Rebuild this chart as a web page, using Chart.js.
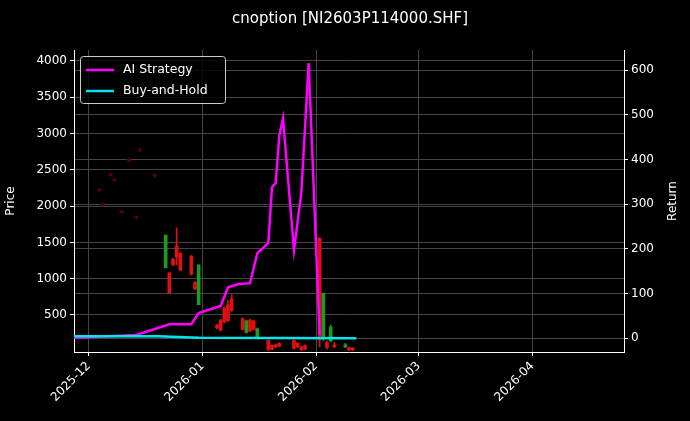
<!DOCTYPE html>
<html><head><meta charset="utf-8">
<script src="https://cdn.jsdelivr.net/npm/chart.js@4"></script>
<style>html,body{margin:0;background:#000}#c{display:block}</style>
</head><body>
<div style="width:690px;height:421px"><canvas id="c"></canvas></div>
<script>
// precios (velas)
const candleDates = ['2025-12-04','2025-12-05','2025-12-07','2025-12-08','2025-12-10','2025-12-12','2025-12-14','2025-12-15','2025-12-19',
  '2025-12-22','2025-12-23','2025-12-24','2025-12-25','2025-12-26','2025-12-29','2025-12-30','2025-12-31',
  '2026-01-05','2026-01-06','2026-01-07','2026-01-08','2026-01-09','2026-01-12','2026-01-13','2026-01-14','2026-01-15','2026-01-16',
  '2026-01-19','2026-01-20','2026-01-21','2026-01-22','2026-01-26','2026-01-27','2026-01-28','2026-01-29',
  '2026-02-02','2026-02-03','2026-02-04','2026-02-05','2026-02-06','2026-02-09','2026-02-10','2026-02-11'];
const opens  = [2230,2030,2440,2370,1930,2650,1850,2780,2430, 1150,1080,1270,1450,1350,1310,950,640, 360,430,600,640,720,450,260,430,420,180, 150,80,90,110,150,110,60,80, 1560,180,120,140,90,60,50,40];
const closes = [2210,2010,2420,2350,1910,2620,1830,2760,2410, 1600,800,1190,1300,1120,1060,860,1190, 320,290,400,420,560,300,420,280,300,310, 20,30,60,70,40,60,20,30, 160,800,50,330,60,90,20,20];
const highs  = [2240,2040,2450,2380,1940,2660,1860,2790,2440, 1600,1080,1280,1700,1360,1320,960,1190, 370,440,610,700,780,460,430,440,430,320, 160,90,100,120,160,120,70,90, 1560,800,140,360,120,110,60,50];
const lows   = [2200,2000,2410,2340,1900,2610,1820,2750,2400, 1150,800,1180,1190,1110,1050,850,640, 310,280,390,410,550,290,250,270,290,170, 10,20,50,60,30,50,10,20, 60,150,30,130,50,50,10,10];
// retornos
const aiDates = ['2025-11-27','2025-12-14','2025-12-23','2025-12-29','2025-12-31','2026-01-06','2026-01-08','2026-01-11','2026-01-14','2026-01-16','2026-01-19','2026-01-20','2026-01-21','2026-01-22','2026-01-23','2026-01-26','2026-01-28','2026-01-30','2026-02-02'];
const aiReturn = [1,7,31,31,56,72,114,121,123,190,213,338,347,454,492,197,325,616,7];
const bhDates = ['2025-11-27','2025-12-20','2025-12-31','2026-02-12'];
const bhReturn = [4,4,1,0];
const monthTicks = ['2025-12','2026-01','2026-02','2026-03','2026-04'];

const T = s => Date.parse(s.length===7 ? s+'-01T00:00:00Z' : s+'T00:00:00Z');
const up = candleDates.map((d,i)=>closes[i]>=opens[i]);
const colr = candleDates.map((d,i)=> i<9 ? '#5a0000' : (up[i] ? '#1f9a1f' : '#e01010'));

const bodies = candleDates.map((d,i)=>({x:T(d), y:[opens[i],closes[i]]}));
const wicks = candleDates.map((d,i)=>({x:T(d), y:[lows[i],highs[i]]}));
const aiPts = aiReturn.map((v,i)=>({x:T(aiDates[i]), y:v}));
const bhPts = bhReturn.map((v,i)=>({x:T(bhDates[i]), y:v}));

const decor = {
  id:'decor',
  afterDraw(ch){
    const c = ch.ctx;
    c.save();
    c.fillStyle='#fff'; c.font='15px "DejaVu Sans"'; c.textAlign='center'; c.textBaseline='middle';
    c.fillText('cnoption [NI2603P114000.SHF]', 350, 19);
    c.font='12px "DejaVu Sans"';
    c.save(); c.translate(673,201); c.rotate(-Math.PI/2); c.fillText('Return',0,0); c.restore();
    // leyenda
    c.fillStyle='rgba(0,0,0,0.8)'; c.strokeStyle='#ccc'; c.lineWidth=1;
    c.beginPath(); c.roundRect(80.5,56.5,145,47,3); c.fill(); c.stroke();
    const items=[['AI Strategy','#ff00ff',70],['Buy-and-Hold','#00e5ee',91]];
    c.font='12.5px "DejaVu Sans"'; c.textAlign='left';
    items.forEach(([t,col,y])=>{
      c.strokeStyle=col; c.lineWidth=2.5; c.beginPath(); c.moveTo(86,y); c.lineTo(114,y); c.stroke();
      c.fillStyle='#fff'; c.fillText(t,123,y);
    });
    c.restore();
  }
};

const grid = {color:'#444', borderDash:[3,3], tickColor:'#fff', tickLength:4, offset:false};
new Chart(document.getElementById('c'), {
  data:{datasets:[
    {type:'bar', data:wicks, yAxisID:'y', backgroundColor:colr, barThickness:1, grouped:false, order:3},
    {type:'bar', data:bodies, yAxisID:'y', backgroundColor:colr, barThickness:3, grouped:false, minBarLength:2, order:2},
    {type:'line', data:aiPts, yAxisID:'y1', borderColor:'#ff00ff', borderWidth:2.5, pointRadius:0, tension:0, order:1},
    {type:'line', data:bhPts, yAxisID:'y1', borderColor:'#00e5ee', borderWidth:2.5, pointRadius:0, tension:0, order:0}
  ]},
  options:{
    responsive:true, maintainAspectRatio:false, animation:false,
    layout:{padding:{top:50,left:0,right:0,bottom:0}},
    plugins:{legend:{display:false}, tooltip:{enabled:false}},
    scales:{
      x:{type:'linear', offset:false, min:T('2025-11-27'), max:T('2026-04-26'),
        afterBuildTicks(ax){ ax.ticks = monthTicks.map(m=>({value:T(m)})); },
        afterFit(ax){ ax.height=69; },
        ticks:{color:'#fff', maxRotation:45, minRotation:45, font:{size:12, family:'DejaVu Sans'},
          callback:(v)=>{const d=new Date(v); return d.getUTCFullYear()+'-'+String(d.getUTCMonth()+1).padStart(2,'0');}},
        grid, border:{color:'#fff'}},
      y:{position:'left', min:-10, max:4150,
        afterBuildTicks(ax){ ax.ticks=[500,1000,1500,2000,2500,3000,3500,4000].map(v=>({value:v})); },
        afterFit(ax){ ax.width=74; },
        title:{display:true, text:'Price', color:'#fff', font:{size:12, family:'DejaVu Sans'}},
        ticks:{color:'#fff', font:{size:12, family:'DejaVu Sans'}, callback:v=>String(v)},
        grid, border:{color:'#fff'}},
      y1:{position:'right', min:-31, max:645,
        afterBuildTicks(ax){ ax.ticks=[0,100,200,300,400,500,600].map(v=>({value:v})); },
        afterFit(ax){ ax.width=66; },
        ticks:{color:'#fff', font:{size:12, family:'DejaVu Sans'}, callback:v=>String(v)},
        grid, border:{color:'#fff'}}
    }
  },
  plugins:[decor]
});
</script>
</body></html>
